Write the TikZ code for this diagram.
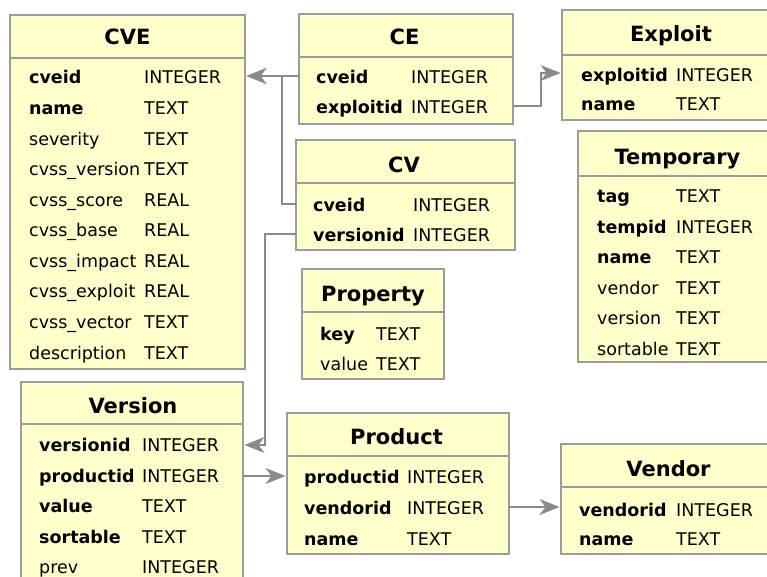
\documentclass[tikz,border=0pt]{standalone}
\usepackage{fontspec}
\setmainfont{DejaVu Sans}
\usetikzlibrary{arrows.meta}
\definecolor{tblfill}{HTML}{FFFFCC}
\definecolor{tblline}{HTML}{9C9C9C}
\definecolor{fkline}{HTML}{8A8A8A}

\begin{document}
\begin{tikzpicture}[x=1pt,y=-1pt,
  tbl/.style={draw=tblline, fill=tblfill, line width=1.5pt, inner sep=0pt, outer sep=0pt, anchor=north west},
  rule/.style={draw=tblline, line width=1.5pt},
  title/.style={font=\fontsize{21}{24}\selectfont\bfseries, inner sep=0pt, anchor=base},
  key/.style={font=\fontsize{17.5}{20}\selectfont\bfseries, inner sep=0pt, anchor=base west},
  col/.style={font=\fontsize{17.5}{20}\selectfont, inner sep=0pt, anchor=base west},
  fk/.style={draw=fkline, line width=1.6pt, shorten >=1.5pt,
    -{Stealth[length=20pt,width=16pt,inset=6pt]}},
]
\useasboundingbox (0,0) rectangle (767,577);
\fill[white] (0,0) rectangle (767,577);
\clip (0,0) rectangle (767,577);

% ---------- table frames ----------
\node[tbl, minimum width=235pt, minimum height=354pt] (cve)      at (10,15)  {};
\node[tbl, minimum width=214pt, minimum height=110pt] (ce)       at (299,14) {};
\node[tbl, minimum width=219pt, minimum height=110pt] (cv)       at (296,140) {};
\node[tbl, minimum width=218pt, minimum height=110pt] (exploit)  at (562,10) {};
\node[tbl, minimum width=197pt, minimum height=231pt] (temp)     at (578,131) {};
\node[tbl, minimum width=222pt, minimum height=210pt] (version)  at (21,382) {};
\node[tbl, minimum width=142pt, minimum height=110pt] (property) at (302,269) {};
\node[tbl, minimum width=222pt, minimum height=141pt] (product)  at (287,413) {};
\node[tbl, minimum width=214pt, minimum height=110pt] (vendor)   at (561,444) {};

% ---------- header separators ----------
\draw[rule] (cve.west |- 0,58)      -- (cve.east |- 0,58);
\draw[rule] (ce.west |- 0,57)       -- (ce.east |- 0,57);
\draw[rule] (cv.west |- 0,183)      -- (cv.east |- 0,183);
\draw[rule] (exploit.west |- 0,55)  -- (exploit.east |- 0,55);
\draw[rule] (temp.west |- 0,176)    -- (temp.east |- 0,176);
\draw[rule] (version.west |- 0,424) -- (version.east |- 0,424);
\draw[rule] (property.west |- 0,312) -- (property.east |- 0,312);
\draw[rule] (product.west |- 0,456) -- (product.east |- 0,456);
\draw[rule] (vendor.west |- 0,487)  -- (vendor.east |- 0,487);

% ---------- titles ----------
\node[title] (cve-title)      at (127.5,45) {CVE};
\node[title] (ce-title)       at (404.5,45) {CE};
\node[title] (cv-title)       at (404,173)  {CV};
\node[title] (exploit-title)  at (671,42)   {Exploit};
\node[title] (temp-title)     at (677.5,165) {Temporary};
\node[title] (version-title)  at (133,413)  {Version};
\node[title] (property-title) at (373,301)  {Property};
\node[title] (product-title)  at (396.5,444) {Product};
\node[title] (vendor-title)   at (668.5,476) {Vendor};

% ---------- CVE ----------
\node[key] (cve-f1) at (29,84)    {cveid};        \node[col] (cve-t1) at (144,84)    {INTEGER};
\node[key] (cve-f2) at (29,114.6) {name};         \node[col] (cve-t2) at (144,114.6) {TEXT};
\node[col] (cve-f3) at (29,145.1) {severity};     \node[col] (cve-t3) at (144,145.1) {TEXT};
\node[col] (cve-f4) at (29,175.7) {cvss\_version};\node[col] (cve-t4) at (144,175.7) {TEXT};
\node[col] (cve-f5) at (29,206.2) {cvss\_score};  \node[col] (cve-t5) at (144,206.2) {REAL};
\node[col] (cve-f6) at (29,236.8) {cvss\_base};   \node[col] (cve-t6) at (144,236.8) {REAL};
\node[col] (cve-f7) at (29,267.4) {cvss\_impact}; \node[col] (cve-t7) at (144,267.4) {REAL};
\node[col] (cve-f8) at (29,297.9) {cvss\_exploit};\node[col] (cve-t8) at (144,297.9) {REAL};
\node[col] (cve-f9) at (29,328.5) {cvss\_vector}; \node[col] (cve-t9) at (144,328.5) {TEXT};
\node[col] (cve-f10) at (29,359)  {description};  \node[col] (cve-t10) at (144,359)  {TEXT};

% ---------- CE ----------
\node[key] (ce-f1) at (316,84)  {cveid};     \node[col] (ce-t1) at (411,84)  {INTEGER};
\node[key] (ce-f2) at (316,114) {exploitid}; \node[col] (ce-t2) at (411,114) {INTEGER};

% ---------- CV ----------
\node[key] (cv-f1) at (313,211.7) {cveid};     \node[col] (cv-t1) at (413,211.7) {INTEGER};
\node[key] (cv-f2) at (313,241.7) {versionid}; \node[col] (cv-t2) at (413,241.7) {INTEGER};

% ---------- Exploit ----------
\node[key] (exploit-f1) at (581,81.7)  {exploitid}; \node[col] (exploit-t1) at (676,81.7)  {INTEGER};
\node[key] (exploit-f2) at (581,110.7) {name};      \node[col] (exploit-t2) at (676,110.7) {TEXT};

% ---------- Temporary ----------
\node[key] (temp-f1) at (597,202.7) {tag};      \node[col] (temp-t1) at (676,202.7) {TEXT};
\node[key] (temp-f2) at (597,233.2) {tempid};   \node[col] (temp-t2) at (676,233.2) {INTEGER};
\node[key] (temp-f3) at (597,263.7) {name};     \node[col] (temp-t3) at (676,263.7) {TEXT};
\node[col] (temp-f4) at (597,294.2) {vendor};   \node[col] (temp-t4) at (676,294.2) {TEXT};
\node[col] (temp-f5) at (597,324.7) {version};  \node[col] (temp-t5) at (676,324.7) {TEXT};
\node[col] (temp-f6) at (597,355.2) {sortable}; \node[col] (temp-t6) at (676,355.2) {TEXT};

% ---------- Version ----------
\node[key] (version-f1) at (39,451.7) {versionid}; \node[col] (version-t1) at (142,451.7) {INTEGER};
\node[key] (version-f2) at (39,482.3) {productid}; \node[col] (version-t2) at (142,482.3) {INTEGER};
\node[key] (version-f3) at (39,512.8) {value};     \node[col] (version-t3) at (142,512.8) {TEXT};
\node[key] (version-f4) at (39,543.3) {sortable};  \node[col] (version-t4) at (142,543.3) {TEXT};
\node[col] (version-f5) at (39,573.8) {prev};      \node[col] (version-t5) at (142,573.8) {INTEGER};

% ---------- Property ----------
\node[key] (property-f1) at (320,340) {key};   \node[col] (property-t1) at (376,340) {TEXT};
\node[col] (property-f2) at (320,370) {value}; \node[col] (property-t2) at (376,370) {TEXT};

% ---------- Product ----------
\node[key] (product-f1) at (304,483.5) {productid}; \node[col] (product-t1) at (407,483.5) {INTEGER};
\node[key] (product-f2) at (304,514.5) {vendorid};  \node[col] (product-t2) at (407,514.5) {INTEGER};
\node[key] (product-f3) at (304,545)   {name};      \node[col] (product-t3) at (407,545)   {TEXT};

% ---------- Vendor ----------
\node[key] (vendor-f1) at (579,516) {vendorid}; \node[col] (vendor-t1) at (676,516) {INTEGER};
\node[key] (vendor-f2) at (579,545) {name};     \node[col] (vendor-t2) at (676,545) {TEXT};

% ---------- foreign keys ----------
\coordinate (ce-out)      at (ce.west |- 0,76);
\coordinate (cve-in)      at (cve.east |- 0,76);
\coordinate (cv-out1)     at (cv.west |- 0,204);
\coordinate (cv-bend1)    at (282,204);
\coordinate (cv-bend1b)   at (282,76);
\coordinate (ce-out2)     at (ce.east |- 0,106);
\coordinate (ce-bend1)    at (541,106);
\coordinate (ce-bend2)    at (541,73);
\coordinate (exploit-in)  at (exploit.west |- 0,73);
\coordinate (cv-out2)     at (cv.west |- 0,234);
\coordinate (cv-bend2)    at (265,234);
\coordinate (cv-bend2b)   at (265,445);
\coordinate (version-in)  at (version.east |- 0,445);
\coordinate (version-out) at (version.east |- 0,476);
\coordinate (product-in)  at (product.west |- 0,476);
\coordinate (product-out) at (product.east |- 0,507);
\coordinate (vendor-in)   at (vendor.west |- 0,507);

\draw[fk] (ce-out) -- (cve-in);
\draw[fk] (cv-out1) -- (cv-bend1) -- (cv-bend1b) -- (cve-in);
\draw[fk] (ce-out2) -- (ce-bend1) -- (ce-bend2) -- (exploit-in);
\draw[fk] (cv-out2) -- (cv-bend2) -- (cv-bend2b) -- (version-in);
\draw[fk] (version-out) -- (product-in);
\draw[fk] (product-out) -- (vendor-in);
\end{tikzpicture}
\end{document}
